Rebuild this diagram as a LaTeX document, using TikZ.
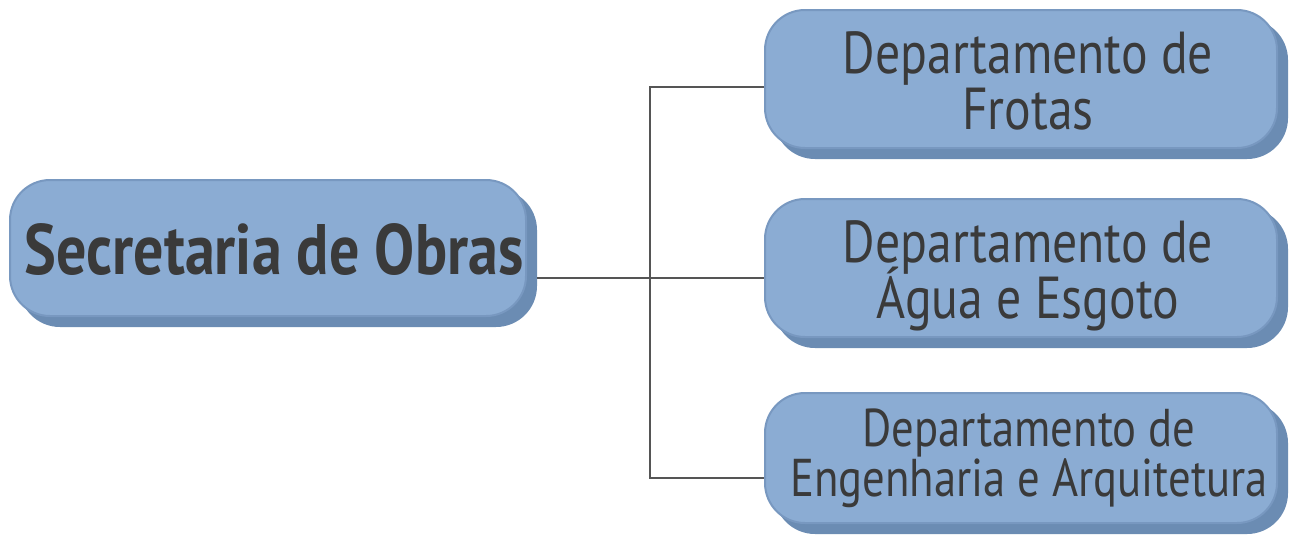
\documentclass[tikz,border=0pt]{standalone}
\usepackage{fontspec}
\setmainfont{PT Sans}[FakeStretch=0.84]
\usetikzlibrary{shadows,calc}
\definecolor{boxfill}{HTML}{8BACD3}
\definecolor{boxshadow}{HTML}{6B8CB3}
\definecolor{boxline}{HTML}{7898C0}
\definecolor{txt}{HTML}{3A3A3A}
\definecolor{conn}{HTML}{555555}
\newcommand\vstrut[2]{\rule[-#2]{0pt}{\dimexpr#1+#2\relax}}
\tikzset{
  orgbox/.style={draw=boxline, line width=1pt, fill=boxfill, rounded corners=20pt,
    inner sep=0pt,
    copy shadow={shadow xshift=5pt, shadow yshift=-5pt, fill=boxshadow, draw=boxshadow, opacity=1}},
  boxtext/.style={align=center, text=txt, inner sep=0pt},
  connector/.style={draw=conn, line width=0.8pt}
}
\begin{document}
\begin{tikzpicture}[x=0.5pt,y=-0.5pt]
\useasboundingbox (0,0) rectangle (1291,537);
\node[orgbox, minimum width=258pt, minimum height=68pt,
  label={[boxtext, xshift=3pt, font=\fontsize{35.7}{38}\selectfont\bfseries]center:\vstrut{28pt}{2pt}\smash{Secretaria de Obras}}] (main) at (268,248) {};
\node[orgbox, minimum width=256pt, minimum height=69pt,
  label={[boxtext, xshift=3.5pt, font=\fontsize{29.6}{28}\selectfont]center:\vstrut{24pt}{2pt}\smash{Departamento de}\\\vstrut{24pt}{2pt}\smash{Frotas}}] (b1) at (1021,79) {};
\node[orgbox, minimum width=256pt, minimum height=69pt,
  label={[boxtext, xshift=3.5pt, font=\fontsize{29.6}{28}\selectfont]center:\vstrut{24pt}{2pt}\smash{Departamento de}\\\vstrut{24pt}{2pt}\smash{Água e Esgoto}}] (b2) at (1021,268) {};
\node[orgbox, minimum width=256pt, minimum height=65pt,
  label={[boxtext, xshift=4pt, font=\fontsize{26.6}{25}\selectfont]center:\vstrut{18pt}{5pt}\smash{Departamento de}\\\vstrut{18pt}{5pt}\smash{Engenharia e Arquitetura}}] (b3) at (1021,458) {};
\coordinate (j1) at (650,87);
\coordinate (j2) at (650,278);
\coordinate (j3) at (650,478);
\draw[connector] ($(main.east |- j2)+(5pt,0)$) -- (b2.west |- j2);
\draw[connector] (b1.west |- j1) -- (j1) -- (j3) -- (b3.west |- j3);
\end{tikzpicture}
\end{document}
